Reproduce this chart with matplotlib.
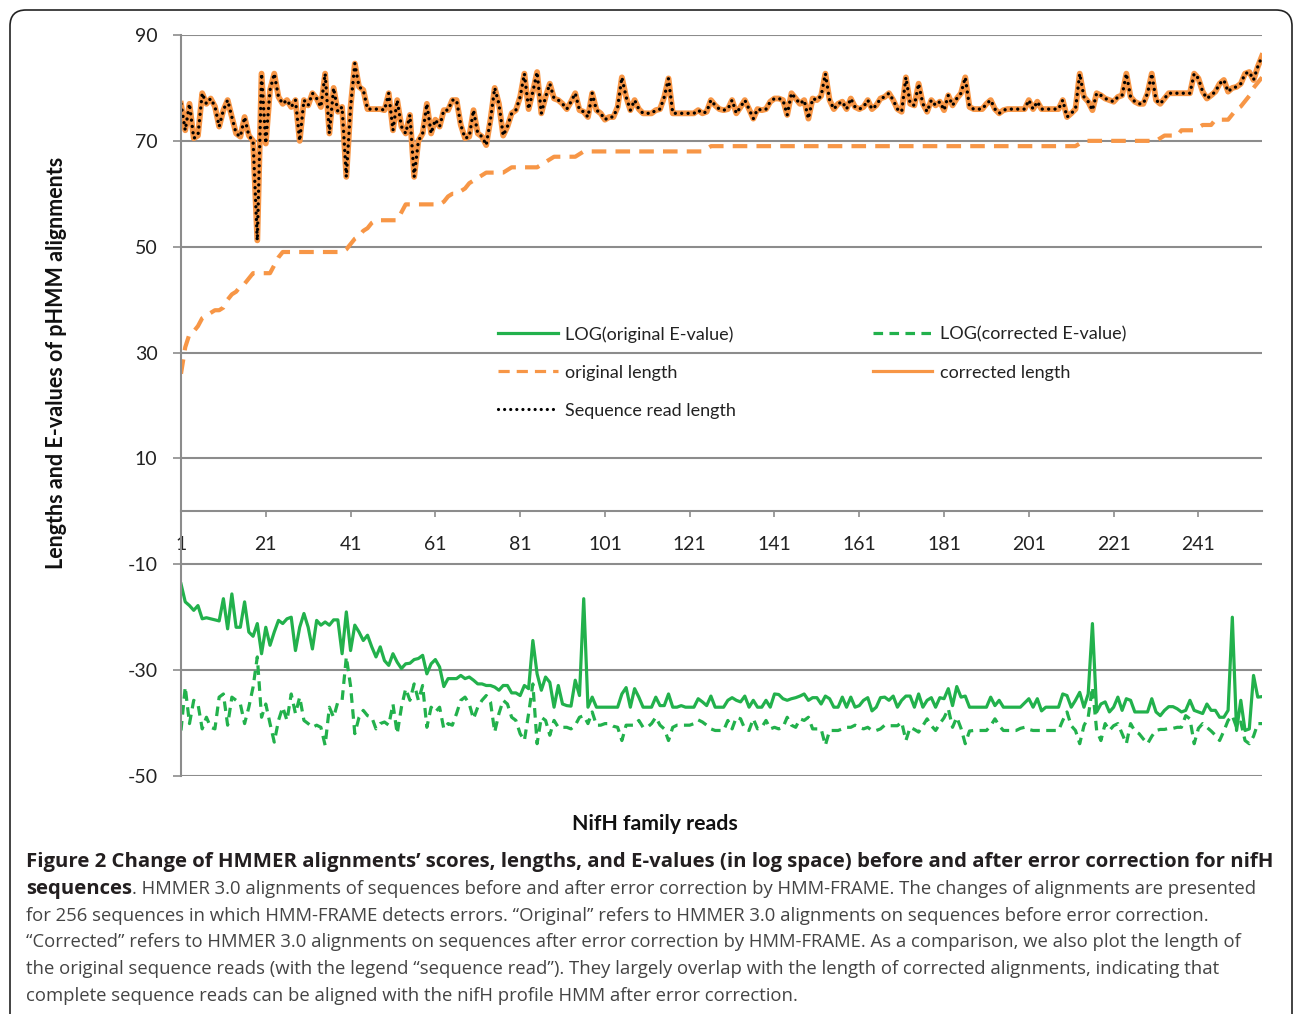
import matplotlib
matplotlib.use("Agg")
import matplotlib.pyplot as plt
from matplotlib.patches import FancyBboxPatch
import numpy as np

W, H = 1293, 1014
GREEN = "#22b14c"
ORANGE = "#f79646"
GRID = "#8c8c8c"

# --- data (256 NifH reads) ---
corrected_length = [
    77, 72, 77, 70.5, 71, 79, 77, 78, 76.5, 72.7,
    75.8, 77.7, 74.5, 71.4, 70.8, 74.5, 71, 70, 51.2, 82.7,
    69.5, 79.6, 82.7, 78.3, 77, 77.7, 76.4, 77.7, 70, 77.7,
    76.7, 79, 78, 76.4, 82.7, 71.4, 80, 75.5, 76.4, 63.2,
    76.4, 84.6, 80.2, 79.6, 76, 76, 76, 76, 75.8, 79,
    72, 77.7, 72.7, 71.4, 74.9, 63.2, 70, 71.4, 77, 71.4,
    74, 72.7, 75.8, 75.8, 77.7, 77.7, 73, 70.5, 70.8, 75.8,
    71.4, 70.8, 69.2, 74, 80, 77, 71, 72.7, 75.2, 75.8,
    78.3, 82.7, 76, 79.3, 83, 75.2, 78.3, 80.8, 78, 77.7,
    77, 76, 77.4, 79, 75.8, 75.5, 74.5, 79, 75.8, 75.2,
    74, 74.5, 74.5, 76.4, 82, 78.3, 75.8, 77.7, 76, 75.2,
    75.2, 75.2, 75.8, 76, 78.3, 81.8, 75.2, 75.2, 75.2, 75.2,
    75.2, 75.2, 75.8, 75.2, 75.5, 77.7, 76.7, 76, 75.8, 76,
    77.7, 75.2, 76.4, 77.7, 76, 74.2, 76, 75.8, 76, 77.4,
    78, 78, 77.7, 74.9, 79, 78, 77, 77.7, 74.2, 78,
    77.7, 78.5, 82.7, 77.7, 76, 77, 77.4, 76, 78, 76.4,
    76, 76.4, 77.7, 76, 76.7, 78, 78.3, 79, 77.7, 76,
    75.5, 82, 77, 76.7, 80.8, 77, 75.5, 77.7, 76.7, 77.4,
    75.8, 78.6, 76.7, 78, 79, 82, 76.4, 76, 76, 76,
    77, 77.7, 76, 75.2, 75.8, 76, 76, 76, 76, 76,
    77.7, 76, 77.4, 76, 76, 76, 76, 76, 77.7, 74.5,
    75.2, 76, 82.7, 78.3, 77.4, 75.8, 79, 78.6, 78, 77.7,
    77.4, 78.3, 78.6, 82.7, 78.3, 77.4, 77, 77, 79, 82.7,
    77.7, 77, 78, 79, 79, 79, 79, 79, 79, 82.7,
    81.8, 79.3, 78, 78.6, 79.3, 80.8, 81.5, 79.3, 80, 80.2,
    80.8, 82.7, 83, 81.5, 84, 86,
]

# sequence read length coincides with the corrected length in the figure
read_length = list(corrected_length)

original_length = [
    26, 31, 33.5, 34, 35, 36.5, 37, 37.5, 38, 38,
    38.5, 40, 41, 41.5, 42.5, 43, 44, 45, 45, 45,
    45, 45, 46.5, 48, 49, 49, 49, 49, 49, 49,
    49, 49, 49, 49, 49, 49, 49, 49, 49, 49.5,
    50.5, 51.5, 52, 53, 53.5, 54.5, 55, 55, 55, 55,
    55, 55, 56.5, 58, 58, 58, 58, 58, 58, 58,
    58, 58, 58.5, 59.5, 60, 60, 60.5, 61, 62, 62.5,
    63, 63.5, 64, 64, 64, 64, 64, 64.5, 65, 65,
    65, 65, 65, 65, 65, 65.5, 66, 66.5, 67, 67,
    67, 67, 67, 67, 67.5, 68, 68, 68, 68, 68,
    68, 68, 68, 68, 68, 68, 68, 68, 68, 68,
    68, 68, 68, 68, 68, 68, 68, 68, 68, 68,
    68, 68, 68, 68, 68.5, 69, 69, 69, 69, 69,
    69, 69, 69, 69, 69, 69, 69, 69, 69, 69,
    69, 69, 69, 69, 69, 69, 69, 69, 69, 69,
    69, 69, 69, 69, 69, 69, 69, 69, 69, 69,
    69, 69, 69, 69, 69, 69, 69, 69, 69, 69,
    69, 69, 69, 69, 69, 69, 69, 69, 69, 69,
    69, 69, 69, 69, 69, 69, 69, 69, 69, 69,
    69, 69, 69, 69, 69, 69, 69, 69, 69, 69,
    69, 69, 69, 69, 69, 69, 69, 69, 69, 69,
    69, 69, 69.5, 70, 70, 70, 70, 70, 70, 70,
    70, 70, 70, 70, 70, 70, 70, 70, 70, 70,
    70, 70.5, 71, 71, 71, 71, 72, 72, 72, 72,
    72.5, 73, 73, 73, 74, 74, 74, 74, 75, 76,
    76.5, 77.5, 78.5, 80, 81, 82,
]

log_original_evalue = [
    -13.7, -17.1, -17.8, -18.7, -17.8, -20.3, -20.1, -20.3, -20.5, -20.7,
    -16.5, -22.2, -15.6, -21.9, -21.9, -17.1, -22.8, -23.6, -21.2, -26.9,
    -21.9, -25.3, -22.8, -20.6, -21.2, -20.3, -20, -26.3, -21.9, -19.3,
    -21.9, -26, -20.6, -21.5, -20.9, -21.5, -20.5, -20.5, -26.9, -19,
    -26.3, -21.5, -22.8, -24.4, -23.4, -25.6, -27.5, -25.6, -28.2, -29.1,
    -26.9, -28.5, -29.7, -28.8, -28.7, -28, -27.8, -27.2, -30.7, -28.8,
    -28, -29.4, -33.1, -31.6, -31.6, -31.6, -31, -31.6, -31.3, -31.9,
    -32.6, -32.6, -32.9, -32.9, -33.2, -33.8, -32.9, -32.9, -34.3, -34.3,
    -34.8, -32.9, -33.5, -24.4, -30.7, -33.8, -31.3, -32.3, -37, -32.9,
    -36.4, -36.7, -36.8, -31.9, -34.8, -16.5, -37, -35.1, -37, -37,
    -37, -37, -37, -37, -34.5, -33.3, -37, -33.5, -35.1, -37,
    -37, -37, -35.1, -36.7, -36.7, -34.5, -37, -37, -36.7, -37,
    -37, -37, -35.4, -36, -36.7, -34.9, -37, -37, -37, -35.7,
    -35.2, -35.7, -36, -34.9, -37, -35.7, -37, -37, -35.7, -37,
    -34.5, -34.6, -35.4, -35.7, -35.4, -35.2, -34.9, -34.5, -35.7, -35.2,
    -35.2, -36.4, -34.9, -35.4, -37, -37, -35.1, -37, -35.1, -37,
    -36.7, -35.7, -35.2, -37.7, -37, -35.2, -35.1, -35.7, -34.9, -37,
    -35.7, -34.9, -34.9, -37, -34.5, -37, -35.7, -35.2, -37, -35.2,
    -35.4, -33.5, -36.7, -33.1, -35.1, -34.9, -37, -37, -37, -37,
    -37, -35.1, -36.7, -35.7, -37, -37, -37, -37, -37, -36.2,
    -35.4, -37, -35.4, -37.7, -37, -37, -37, -37, -34.5, -34.8,
    -37, -35.7, -34.2, -37, -34.5, -21.2, -37.9, -36.4, -36, -37.9,
    -37, -35.1, -37.6, -35.4, -35.7, -37.9, -37.9, -37.9, -37.9, -35.4,
    -37.9, -38.6, -37.6, -36.9, -36.9, -37.3, -37.9, -37.6, -35.7, -37.6,
    -37.9, -38.2, -36.4, -37.6, -37.6, -38.9, -38.9, -37.6, -20, -41.4,
    -35.7, -41.4, -41.1, -31, -35.1, -35,
]

log_corrected_evalue = [
    -41.4, -33.2, -40.1, -35.7, -36.4, -41.1, -38.9, -40.8, -41.1, -35.1,
    -34.5, -40.4, -35.1, -35.7, -36.4, -40.1, -37, -33.2, -27.5, -38.9,
    -36.4, -40.1, -43.6, -39.5, -37, -39.5, -34.5, -38.2, -35.1, -39.5,
    -40.1, -40.8, -40.4, -40.8, -44.2, -37, -38.9, -36, -35.7, -27.5,
    -33, -42, -38.9, -37.6, -38.6, -38.9, -41.1, -40.1, -39.8, -40.4,
    -36.4, -42, -37, -33.5, -35.7, -32.6, -35.7, -32.9, -40.8, -37,
    -37.9, -37, -41.1, -40.1, -40.4, -38.2, -35.7, -35.1, -36.4, -39.2,
    -37, -35.7, -34.8, -36, -41.7, -38.2, -35.7, -36.4, -38.9, -39.5,
    -42, -43.3, -38.2, -32.6, -43.9, -38.9, -39.5, -42.3, -39.5, -40.8,
    -40.8, -40.8, -41.1, -40.4, -38.9, -38.6, -40.1, -37.9, -40.4, -40.4,
    -40.1, -40.1, -40.6, -40.8, -43.3, -40.4, -40.4, -40.4, -39.5, -40.8,
    -40.8, -40.1, -38.9, -40.4, -41.1, -43.3, -40.8, -40.4, -40.4, -40.4,
    -40.4, -40.1, -39.4, -39.8, -40.4, -41.1, -41.4, -41.4, -41.4, -39.5,
    -41.1, -38.9, -39.2, -41.1, -41.4, -39.2, -41.1, -40.8, -39.5, -41.1,
    -40.8, -41.1, -40.8, -38.9, -40.4, -40.8, -39.2, -39.5, -38.9, -41.1,
    -41.1, -41.1, -44.2, -41.4, -41.4, -41.4, -41.1, -40.8, -40.8, -40.4,
    -40.8, -41.1, -40.8, -41.4, -41.4, -41.1, -40.4, -40.5, -40.5, -40.5,
    -39.8, -43.3, -40.8, -41.2, -41.7, -40.5, -39.2, -40.5, -41.4, -40.1,
    -39, -37.3, -40.8, -38.9, -41, -43.9, -41.5, -41.4, -41.4, -41.4,
    -41.4, -40.5, -39.2, -40.5, -41.4, -41.4, -41.4, -41.4, -41, -40.8,
    -41.2, -41.4, -41.4, -41.4, -41.4, -41.4, -41.4, -41.4, -39.5, -37.9,
    -40.5, -41.4, -43.9, -40.5, -38.9, -33.2, -41.4, -43.3, -40.1, -41.4,
    -40.5, -40.1, -42, -43.9, -40.1, -41.5, -42, -43, -43.9, -42.5,
    -41.4, -41.2, -41.2, -41, -41, -40.8, -40.8, -38.6, -39.2, -43.9,
    -41, -40.1, -40.8, -41.5, -42.3, -43.3, -41.5, -39.5, -38.6, -40.8,
    -39.8, -43.3, -43.9, -42.5, -40.1, -40.1,
]

y_ticks = [-50, -30, -10, 10, 30, 50, 70, 90]
x_ticks = [1, 21, 41, 61, 81, 101, 121, 141, 161, 181, 201, 221, 241]

caption_title = ("Figure 2 Change of HMMER alignments\u2019 scores, lengths, and E-values "
                 "(in log space) before and after error correction for nifH")
caption_lines = [
    ". HMMER 3.0 alignments of sequences before and after error correction by HMM-FRAME. "
    "The changes of alignments are presented",
    "for 256 sequences in which HMM-FRAME detects errors. \u201cOriginal\u201d refers to "
    "HMMER 3.0 alignments on sequences before error correction.",
    "\u201cCorrected\u201d refers to HMMER 3.0 alignments on sequences after error correction "
    "by HMM-FRAME. As a comparison, we also plot the length of",
    "the original sequence reads (with the legend \u201csequence read\u201d). They largely "
    "overlap with the length of corrected alignments, indicating that",
    "complete sequence reads can be aligned with the nifH profile HMM after error correction.",
]

n = len(corrected_length)
reads = np.arange(1, n + 1)

plt.rcParams["font.family"] = ["Lato", "DejaVu Sans"]
plt.rcParams["axes.unicode_minus"] = False

fig = plt.figure(figsize=(W / 100, H / 100), dpi=100)
ax = fig.add_axes([181 / W, 1 - 776 / H, (1262 - 181) / W, 741 / H])

l1, = ax.plot(reads, log_original_evalue, color=GREEN, lw=2.3, label="LOG(original E-value)")
l2, = ax.plot(reads, log_corrected_evalue, color=GREEN, lw=2.3, linestyle=(0, (3, 2)),
              label="LOG(corrected E-value)")
l3, = ax.plot(reads, original_length, color=ORANGE, lw=3, linestyle=(0, (3.5, 2.2)),
              label="original length")
l4, = ax.plot(reads, corrected_length, color=ORANGE, lw=4.2, label="corrected length")
l5, = ax.plot(reads, read_length, color="black", lw=2.4, linestyle=(0, (0.01, 1.9)),
              dash_capstyle="round", label="Sequence read length")

ax.set_xlim(1, n)
ax.set_ylim(-50, 90)
ax.set_yticks(y_ticks)
ax.set_xticks(x_ticks)
ax.grid(axis="y", color=GRID, lw=1.5)
ax.set_axisbelow(True)
for s in ["top", "right"]:
    ax.spines[s].set_visible(False)
ax.spines["bottom"].set_position(("data", 0))
ax.spines["left"].set_color(GRID)
ax.spines["bottom"].set_color(GRID)
ax.spines["left"].set_linewidth(1.5)
ax.spines["bottom"].set_linewidth(1.5)
ax.tick_params(axis="y", length=6, width=1.2, color=GRID, pad=11, labelsize=14,
               labelcolor="#222222")
ax.tick_params(axis="x", length=4, width=1.2, color=GRID, pad=14, labelsize=14,
               labelcolor="#222222")

leg = ax.legend(handles=[l1, l3, l5, l2, l4], loc="upper left",
                bbox_to_anchor=(498 / W, 1 - 326 / H), bbox_transform=fig.transFigure,
                ncol=2, frameon=False, fontsize=13, handlelength=3.3,
                handletextpad=0.4, columnspacing=7.6, labelspacing=1.22,
                borderpad=0, borderaxespad=0)
for t in leg.get_texts():
    t.set_color("#222222")
for h in leg.legend_handles:
    h.set_linewidth(2.3)

fig.text(57 / W, 1 - 363 / H, "Lengths and E-values of pHMM alignments", rotation=90,
         ha="center", va="center", fontsize=15.5, fontweight="bold", color="#111111")
fig.text(655 / W, 1 - 824 / H, "NifH family reads", ha="center", va="center",
         fontsize=15.3, fontweight="bold", color="#111111")

# caption
cap_font = ["Open Sans", "DejaVu Sans"]
fig.text(26 / W, 1 - 862 / H, caption_title, ha="left", va="center", family=cap_font,
         fontsize=14.7, fontweight="bold", color="#231f20")
bold_word = fig.text(26 / W, 1 - 889 / H, "sequences", ha="left", va="center",
                     family=cap_font, fontsize=14.7, fontweight="bold", color="#231f20")
fig.canvas.draw()
bb = bold_word.get_window_extent()
fig.text(bb.x1 / W, 1 - 889 / H, caption_lines[0], ha="left", va="center",
         family=cap_font, fontsize=13.3, color="#444444")
for k, line in enumerate(caption_lines[1:]):
    y = [916, 942, 969, 996][k]
    fig.text(26 / W, 1 - y / H, line, ha="left", va="center", family=cap_font,
             fontsize=13.3, color="#444444")

border = FancyBboxPatch((10, -30), 1282, 1004 + 30, boxstyle="round,pad=0,rounding_size=16",
                        transform=None, fill=False, edgecolor="#222222", lw=1.2)
fig.add_artist(border)

fig.savefig("out.png", dpi=100)
